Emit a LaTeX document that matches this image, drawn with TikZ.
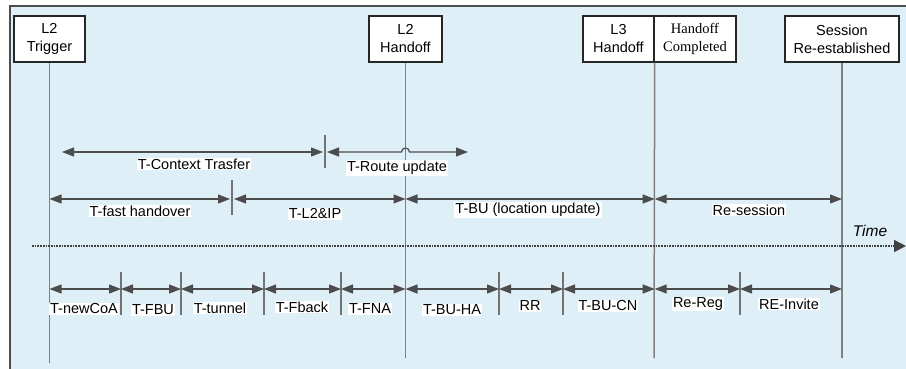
\documentclass[tikz,border=0pt]{standalone}
\usepackage{fontspec}
\setmainfont{Liberation Sans}
\newfontfamily\timesfont{Liberation Serif}
\usetikzlibrary{arrows.meta}
\begin{document}
\begin{tikzpicture}[x=1pt,y=1pt,
  evbox/.style={draw=black!85,line width=1.4pt,fill=white,minimum height=46pt,align=center,inner sep=1pt,font=\fontsize{14.5}{18}\selectfont},
  lifeline/.style={draw=black!50,line width=1.5pt},
  span/.style={draw=black!70,line width=1.2pt,{Triangle[length=12pt,width=9pt]}-{Triangle[length=12pt,width=9pt]}},
  tick/.style={draw=black!55,line width=1.3pt},
  tlabel/.style={fill=white,inner sep=1pt,font=\fontsize{14.5}{16}\selectfont}]
\definecolor{panel}{HTML}{DEEFF7}
\useasboundingbox (0,0) rectangle (906,-368);
\clip (0,0) rectangle (906,-368);
%Panel:
\fill[panel] (10,-6) rectangle (915,-375);
\draw[black!70,line width=2pt] (915,-6) -- (10,-6) -- (10,-375);
%Events:
\node[evbox,minimum width=71pt] (trig) at (49.5,-39) {L2\\Trigger};
\node[evbox,minimum width=73pt] (l2ho) at (405.5,-39) {L2\\Handoff};
\node[evbox,minimum width=71pt] (l3ho) at (618.5,-39) {L3\\Handoff};
\node[evbox,minimum width=82pt,font=\timesfont\fontsize{14.5}{18}\selectfont] (hocmp) at (695,-39) {Handoff\\Completed};
\node[evbox,minimum width=114pt] (sess) at (842,-39) {Session\\Re-established};
%Lifelines:
\coordinate (trigend) at (49.5,-363);
\coordinate (l2end) at (405.5,-358);
\coordinate (l3end) at (654,-358);
\coordinate (sessend) at (842,-358);
\draw[lifeline] (trig.south) -- (trigend);
\draw[lifeline] (l2ho.south) -- (l2end);
\draw[lifeline] (l3ho.south east) -- (l3end);
\draw[lifeline] (sess.south) -- (sessend);
%Row 1:
\coordinate (ctx0) at (62,-152);
\coordinate (ctx1) at (325,-152);
\coordinate (rte1) at (468,-152);
\draw[tick] ([yshift=17pt]ctx1) -- ([yshift=-16pt]ctx1);
\draw[span] (ctx0) -- ([xshift=-2pt]ctx1);
\draw[span] ([xshift=2pt]ctx1) -- ([xshift=-4pt]l2ho |- ctx1) arc[start angle=180,end angle=0,radius=4pt] -- (rte1);
\node[tlabel] (lctx) at (194,-164) {T-Context Trasfer};
\node[tlabel] (lrte) at (397,-168) {T-Route update};
%Row 2:
\coordinate (fh) at (232,-199);
\draw[tick] ([yshift=19pt]fh) -- ([yshift=-16pt]fh);
\draw[span] (trig |- fh) -- ([xshift=-2pt]fh);
\draw[span] ([xshift=2pt]fh) -- (l2ho |- fh);
\draw[span] (l2ho |- fh) -- (l3ho.south east |- fh);
\draw[span] (l3ho.south east |- fh) -- (sess |- fh);
\node[tlabel] (lfh) at (140,-211) {T-fast handover};
\node[tlabel] (lip) at (315,-214) {T-L2\&IP};
\node[tlabel] (lbu) at (528,-210) {T-BU (location update)};
\node[tlabel] (lres) at (749,-210) {Re-session};
%Time axis:
\draw[black!75,line width=1.7pt,densely dotted,-{Triangle[length=12pt,width=12pt]}] (32,-246) -- (906,-246);
\node[font=\itshape\fontsize{15.5}{18}\selectfont] (tm) at (870,-231) {Time};
%Row 3:
\foreach \x/\n in {121/1,181/2,264/3,341/4,499/6,563/7,740/9} {
  \coordinate (p\n) at (\x,-289);
  \draw[tick] (\x,-272) -- (\x,-315);
}
\coordinate (p0) at (trig |- p1);
\coordinate (p5) at (l2ho |- p1);
\coordinate (p8) at (l3ho.south east |- p1);
\coordinate (p10) at (sess |- p1);
\foreach \a/\b in {0/1,1/2,2/3,3/4,4/5,5/6,6/7,7/8,8/9,9/10}
  \draw[span] (p\a) -- (p\b);
\node[tlabel] (lcoa) at (84,-309) {T-newCoA};
\node[tlabel] (lfbu) at (153,-310) {T-FBU};
\node[tlabel] (ltun) at (220,-308) {T-tunnel};
\node[tlabel] (lfbk) at (302,-307) {T-Fback};
\node[tlabel] (lfna) at (370,-309) {T-FNA};
\node[tlabel] (lbuha) at (452,-310) {T-BU-HA};
\node[tlabel] (lrr) at (530,-306) {RR};
\node[tlabel] (lbucn) at (608,-306) {T-BU-CN};
\node[tlabel] (lrreg) at (698,-304) {Re-Reg};
\node[tlabel] (linv) at (789,-304) {RE-Invite};
\end{tikzpicture}
\end{document}
